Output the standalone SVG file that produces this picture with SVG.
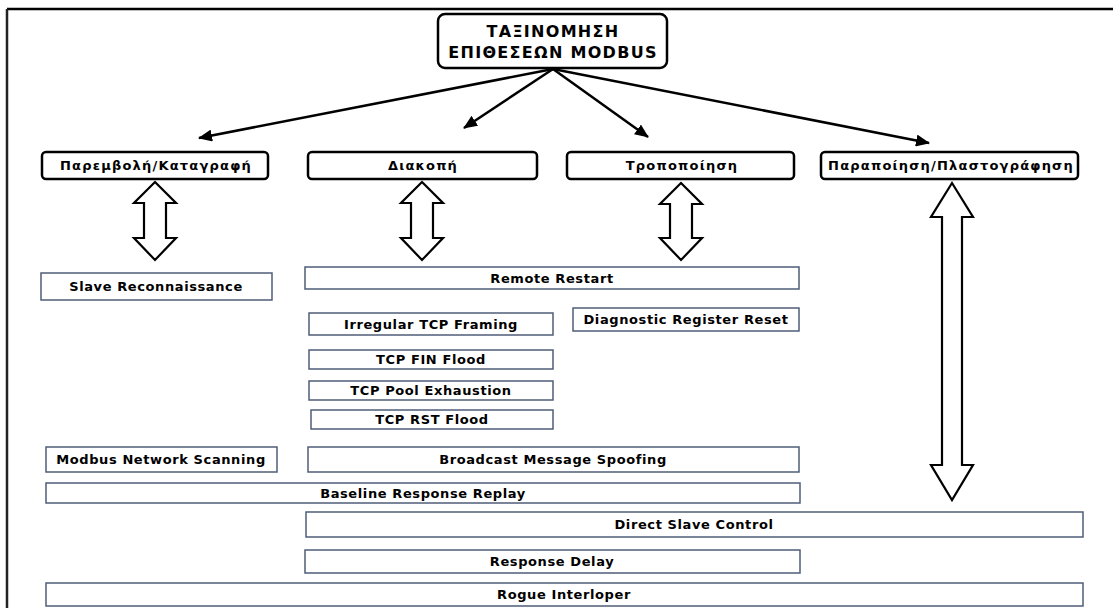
<svg xmlns="http://www.w3.org/2000/svg" width="1113" height="608" viewBox="0 0 1113 608">
<defs>
<style>
text{font-family:"DejaVu Sans","Verdana",sans-serif;font-weight:bold;fill:#000;text-anchor:middle}
.t{font-size:16px;letter-spacing:1.3px}
.c{font-size:13px;letter-spacing:1.2px}
.l{font-size:13px;letter-spacing:0.6px}
.cat{fill:#fff;stroke:#000;stroke-width:2.5}
.leaf{fill:#fff;stroke:#4f5d78;stroke-width:1.5}
.conn{stroke:#000;stroke-width:2.5;fill:none}
.dbl{fill:#fff;stroke:#000;stroke-width:2.2;stroke-linejoin:miter}
</style>
<marker id="ah" markerUnits="userSpaceOnUse" markerWidth="14" markerHeight="12" refX="13" refY="6" orient="auto">
<path d="M0,0 L14,6 L0,12 Z" fill="#000"/>
</marker>
</defs>
<rect width="1113" height="608" fill="#fff"/>
<g id="frame">
<line x1="7" y1="9" x2="1113" y2="9" stroke="#000" stroke-width="2.5"/>
<line x1="7" y1="9" x2="7" y2="608" stroke="#222" stroke-width="2.5"/>
</g>
<g id="connectors">
<line class="conn" x1="553" y1="69" x2="199" y2="138" marker-end="url(#ah)"/>
<line class="conn" x1="553" y1="69" x2="464" y2="128" marker-end="url(#ah)"/>
<line class="conn" x1="553" y1="69" x2="648" y2="137" marker-end="url(#ah)"/>
<line class="conn" x1="553" y1="69" x2="929" y2="143" marker-end="url(#ah)"/>
<polygon class="dbl" points="155,182 176,203 166,203 166,238 176,238 155,260 134,238 144,238 144,203 134,203"/>
<polygon class="dbl" points="422,182 443,203 433,203 433,238 443,238 422,260 401,238 411,238 411,203 401,203"/>
<polygon class="dbl" points="681,183 702,204 692,204 692,238 702,238 681,260 660,238 670,238 670,204 660,204"/>
<polygon class="dbl" points="952,183 973,217 962,217 962,465 973,465 952,500 931,465 942,465 942,217 931,217"/>
</g>
<g id="title">
<rect x="438" y="14" width="229" height="54" rx="7" class="cat" stroke-width="3"/>
<text class="t" x="553" y="37">ΤΑΞΙΝΟΜΗΣΗ</text>
<text class="t" x="553" y="58">ΕΠΙΘΕΣΕΩΝ MODBUS</text>
</g>
<g id="cat1"><rect x="42" y="152" width="226" height="27" rx="4" class="cat"/><text class="c" x="156" y="170">Παρεμβολή/Καταγραφή</text></g>
<g id="cat2"><rect x="308" y="152" width="229" height="27" rx="4" class="cat"/><text class="c" x="423" y="170">Διακοπή</text></g>
<g id="cat3"><rect x="567" y="152" width="227" height="27" rx="4" class="cat"/><text class="c" x="682" y="170">Τροποποίηση</text></g>
<g id="cat4"><rect x="821" y="152" width="257" height="27" rx="4" class="cat"/><text class="c" x="951" y="170">Παραποίηση/Πλαστογράφηση</text></g>
<g id="n1"><rect class="leaf" x="41" y="273" width="231" height="27"/><text class="l" x="156" y="291">Slave Reconnaissance</text></g>
<g id="n2"><rect class="leaf" x="305" y="267" width="494" height="22"/><text class="l" x="552" y="283">Remote Restart</text></g>
<g id="n3"><rect class="leaf" x="309" y="313" width="244" height="22"/><text class="l" x="431" y="329">Irregular TCP Framing</text></g>
<g id="n4"><rect class="leaf" x="573" y="308" width="226" height="23"/><text class="l" x="686" y="324">Diagnostic Register Reset</text></g>
<g id="n5"><rect class="leaf" x="309" y="350" width="244" height="19"/><text class="l" x="431" y="364">TCP FIN Flood</text></g>
<g id="n6"><rect class="leaf" x="309" y="381" width="244" height="19"/><text class="l" x="431" y="395">TCP Pool Exhaustion</text></g>
<g id="n7"><rect class="leaf" x="311" y="410" width="242" height="19"/><text class="l" x="432" y="424">TCP RST Flood</text></g>
<g id="n8"><rect class="leaf" x="46" y="447" width="231" height="25"/><text class="l" x="161" y="464">Modbus Network Scanning</text></g>
<g id="n9"><rect class="leaf" x="308" y="447" width="491" height="25"/><text class="l" x="553" y="464">Broadcast Message Spoofing</text></g>
<g id="n10"><rect class="leaf" x="46" y="483" width="754" height="20"/><text class="l" x="423" y="498">Baseline Response Replay</text></g>
<g id="n11"><rect class="leaf" x="306" y="512" width="777" height="25"/><text class="l" x="694" y="529">Direct Slave Control</text></g>
<g id="n12"><rect class="leaf" x="305" y="550" width="495" height="23"/><text class="l" x="552" y="566">Response Delay</text></g>
<g id="n13"><rect class="leaf" x="46" y="583" width="1037" height="23"/><text class="l" x="564" y="599">Rogue Interloper</text></g>
</svg>
